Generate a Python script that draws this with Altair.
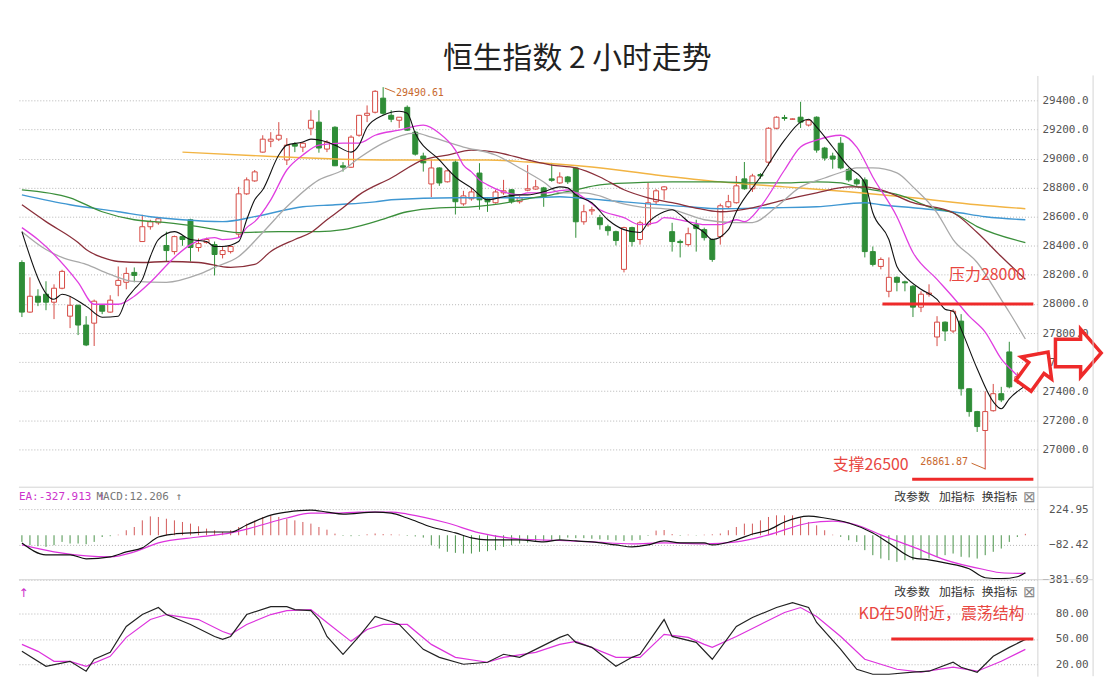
import altair as alt
import pandas as pd

# ---------------- 2-hour candles (index 0..125) ----------------
opens = [28285, 27944, 28053, 28067, 28012, 28108, 27916, 27991, 27855, 27868,
         27991, 27944, 28128, 28149, 28217, 28429, 28531, 28558, 28402, 28360,
         28463, 28579, 28388, 28422, 28408, 28340, 28360, 28480, 28757, 28846,
         29044, 29119, 29133, 28990, 29099, 29078, 29208, 29250, 29065, 29215,
         28950, 28940, 29160, 29297, 29318, 29415, 29297, 29263, 29352, 29181,
         29017, 28825, 28935, 28840, 28975, 28688, 28723, 28900, 28723, 28696,
         28764, 28785, 28703, 28782, 28790, 28798, 28860, 28832, 28873, 28935,
         28565, 28640, 28593, 28531, 28497, 28238, 28525, 28443, 28545, 28703,
         28785, 28497, 28430, 28408, 28545, 28511, 28443, 28463, 28668, 28696,
         28860, 28792, 28890, 28975, 29208, 29282, 29270, 29284, 29230, 29284,
         29072, 29017, 29105, 28925, 28853, 28853, 28360, 28258, 28087, 28183,
         28152, 28122, 27978, 28067, 27773, 27875, 27814, 27882, 27417, 27260,
         27130, 27266, 27383, 27670, 27465, 27500]
highs = [28300, 28183, 28101, 28156, 28135, 28235, 28053, 27995, 27916, 28030,
         27995, 28060, 28258, 28251, 28251, 28613, 28579, 28593, 28497, 28470,
         28470, 28586, 28450, 28456, 28429, 28395, 28402, 28805, 28870, 28921,
         29160, 29181, 29250, 29140, 29112, 29112, 29332, 29332, 29126, 29222,
         28975, 29160, 29300, 29365, 29470, 29490.61, 29332, 29284, 29365, 29190,
         29040, 28990, 28940, 28925, 28990, 28778, 28798, 28968, 28730, 28785,
         28853, 28790, 28740, 28955, 28853, 28805, 28970, 28905, 28880, 28940,
         28682, 28668, 28613, 28545, 28504, 28531, 28531, 28572, 28832, 28790,
         28810, 28558, 28443, 28525, 28579, 28525, 28450, 28690, 28750, 28880,
         28976, 28895, 28900, 29215, 29290, 29300, 29275, 29390, 29270, 29290,
         29080, 29040, 29147, 28935, 28866, 28870, 28395, 28320, 28320, 28190,
         28160, 28130, 28087, 28135, 27916, 27880, 27964, 27930, 27420, 27265,
         27400, 27450, 27430, 27740, 27530, 27540]
lows = [27910, 27940, 27985, 27957, 27896, 28101, 27834, 27786, 27710, 27711,
        27930, 27940, 28053, 28101, 28149, 28429, 28511, 28545, 28292, 28340,
        28400, 28292, 28360, 28415, 28196, 28313, 28347, 28460, 28750, 28840,
        29040, 29078, 29120, 28955, 29044, 29044, 29160, 29040, 29044, 28948,
        28910, 28935, 29150, 29250, 29310, 29300, 29250, 29210, 29190, 29020,
        28910, 28735, 28812, 28835, 28615, 28675, 28710, 28648, 28633, 28690,
        28750, 28690, 28690, 28775, 28785, 28668, 28840, 28825, 28825, 28455,
        28545, 28613, 28511, 28470, 28402, 28217, 28395, 28408, 28531, 28682,
        28716, 28360, 28320, 28395, 28360, 28436, 28290, 28408, 28660, 28690,
        28785, 28770, 28860, 28950, 29200, 29260, 29268, 29210, 29220, 29040,
        28985, 28930, 28925, 28840, 28812, 28320, 28258, 28238, 28046, 28087,
        28087, 27910, 27944, 28050, 27710, 27745, 27800, 27370, 27225, 27120,
        26861.87, 27260, 27325, 27420, 27450, 27470]
closes = [27944, 28053, 28012, 28012, 28108, 28224, 27991, 27855, 27718, 28019,
          27950, 28026, 28162, 28210, 28196, 28531, 28565, 28586, 28367, 28463,
          28443, 28388, 28415, 28443, 28340, 28367, 28395, 28757, 28853, 28908,
          29133, 29133, 29160, 29092, 29085, 29105, 29263, 29072, 29112, 28950,
          28940, 29147, 29297, 29311, 29462, 29311, 29270, 29284, 29195, 29030,
          28970, 28935, 28832, 28915, 28703, 28743, 28770, 28716, 28702, 28770,
          28778, 28703, 28730, 28792, 28805, 28737, 28850, 28873, 28840, 28565,
          28634, 28648, 28545, 28504, 28436, 28525, 28429, 28558, 28696, 28778,
          28805, 28429, 28422, 28483, 28518, 28456, 28306, 28675, 28703, 28812,
          28792, 28880, 28880, 29208, 29284, 29275, 29272, 29250, 29263, 29058,
          29003, 28996, 28935, 28853, 28826, 28360, 28272, 28306, 28183, 28149,
          28145, 27978, 28067, 28075, 27875, 27814, 27950, 27417, 27260, 27157,
          27260, 27383, 27340, 27430, 27500, 27510]

# ---------------- moving averages (bar index, value) ----------------
ma5_i = [0, 4, 5, 8, 10, 12, 13, 14, 15, 16, 17, 19, 21, 23, 24, 25, 27, 28, 29, 30,
         32, 33, 35, 36, 38, 39, 41, 42, 43, 45, 47, 48, 49, 52, 54, 56, 58, 60, 62, 63,
         65, 67, 68, 69, 71, 73, 75, 77, 78, 80, 81, 82, 83, 85, 86, 88, 89, 92, 95, 97,
         98, 99, 101, 103, 105, 106, 108, 109, 110, 112, 114, 115, 116, 117, 119, 121, 122, 123, 125]
ma5_v = [28497, 28032, 28067, 27985, 27909, 27916, 28032, 28101, 28169, 28326, 28443, 28497, 28443, 28429, 28395, 28395, 28429, 28579, 28716, 28785,
         29024, 29092, 29113, 29133, 29113, 29092, 29044, 29092, 29215, 29297, 29325, 29311, 29174, 28990, 28873, 28798, 28716, 28737, 28750, 28750,
         28771, 28805, 28798, 28750, 28696, 28579, 28511, 28491, 28559, 28634, 28648, 28614, 28566, 28491, 28443, 28511, 28634, 28873, 29126, 29250,
         29270, 29215, 29079, 28942, 28832, 28627, 28443, 28258, 28190, 28101, 28032, 27964, 27950, 27827, 27554, 27328, 27280, 27348, 27437]
ma10_i = [0, 2, 7, 9, 12, 14, 16, 19, 21, 24, 25, 27, 28, 29, 31, 33, 35, 37, 40, 42,
          44, 47, 50, 52, 54, 55, 56, 57, 58, 60, 62, 63, 65, 68, 70, 72, 75, 77, 79, 80,
          83, 85, 87, 89, 90, 92, 95, 97, 99, 102, 104, 106, 109, 111, 114, 116, 118, 120, 122, 124, 125]
ma10_v = [28525, 28443, 28149, 27998, 27998, 28053, 28149, 28320, 28408, 28456, 28443, 28456, 28525, 28566, 28716, 28921, 29024, 29092, 29106, 29106,
          29160, 29195, 29229, 29174, 29058, 28955, 28908, 28853, 28819, 28771, 28750, 28764, 28764, 28785, 28730, 28648, 28593, 28545, 28559, 28593,
          28566, 28545, 28545, 28579, 28566, 28668, 28921, 29079, 29126, 29160, 29079, 28873, 28600, 28354, 28169, 28046, 27916, 27807, 27622, 27506, 27437]
ma20_i = [0, 3, 5, 8, 11, 14, 18, 22, 24, 27, 30, 33, 37, 40, 42, 45, 49, 51, 55, 59,
          62, 65, 67, 70, 72, 74, 77, 81, 85, 89, 91, 94, 97, 100, 103, 104, 106, 109, 111, 114,
          116, 119, 122, 123, 125]
ma20_v = [28497, 28374, 28320, 28272, 28203, 28155, 28149, 28203, 28251, 28326, 28491, 28668, 28853, 28921, 29003, 29106, 29174, 29147, 29079, 29024,
          28935, 28839, 28764, 28764, 28743, 28702, 28668, 28648, 28579, 28559, 28559, 28668, 28805, 28866, 28921, 28935, 28935, 28901, 28805, 28627,
          28443, 28285, 28030, 27943, 27759]
ma30_i = [0, 3, 7, 8, 10, 12, 15, 18, 22, 26, 29, 31, 34, 36, 38, 40, 42, 46, 50, 53,
          56, 59, 63, 66, 69, 72, 75, 78, 81, 85, 87, 91, 95, 99, 103, 105, 107, 111, 116, 119, 122, 125]
ma30_v = [28682, 28566, 28422, 28374, 28320, 28292, 28285, 28292, 28285, 28251, 28272, 28361, 28443, 28491, 28579, 28661, 28750, 28866, 28990, 29024,
          29058, 29044, 28990, 28955, 28935, 28873, 28785, 28730, 28696, 28648, 28634, 28661, 28716, 28764, 28805, 28805, 28785, 28696, 28627, 28491, 28326, 28169]
ma60_i = [0, 6, 10, 14, 18, 22, 27, 32, 37, 40, 44, 48, 52, 56, 61, 63, 66, 69, 72, 76,
          81, 87, 91, 95, 99, 102, 104, 106, 110, 113, 116, 119, 125]
ma60_v = [28785, 28730, 28634, 28579, 28559, 28532, 28491, 28497, 28497, 28511, 28566, 28634, 28661, 28668, 28702, 28723, 28750, 28785, 28819, 28832,
          28839, 28839, 28832, 28832, 28839, 28832, 28805, 28785, 28737, 28668, 28627, 28532, 28422]
blue_i = [0, 6, 12, 16, 20, 25, 29, 35, 39, 44, 46, 54, 63, 67, 69, 75, 83, 87, 93, 99, 105, 107, 111, 116, 120, 125]
blue_v = [28750, 28682, 28634, 28600, 28579, 28566, 28600, 28668, 28682, 28702, 28716, 28730, 28730, 28737, 28730, 28702, 28668, 28655, 28661, 28668,
          28696, 28682, 28661, 28634, 28600, 28579]
orange_i = [20, 30, 45, 58, 63, 71, 79, 87, 95, 103, 111, 119, 125]
orange_v = [29044, 29017, 28990, 28990, 28976, 28942, 28887, 28839, 28805, 28771, 28730, 28682, 28655]

# ---------------- MACD ----------------
hist_v = [-57, -85, -94, -100, -85, -57, -71, -71, -77, -57,
          -15, -8, 5, 43, 71, 128, 162, 157, 142, 128,
          114, 100, 77, 57, 43, 28, 43, 71, 100, 128,
          157, 171, 157, 142, 128, 114, 100, 71, 48, 14,
          -5, -8, -5, 8, 15, 10, 8, 5, -5, -10,
          -20, -85, -114, -142, -151, -157, -157, -142, -137, -128,
          -100, -85, -71, -63, -57, -48, -43, -37, -20, -25,
          -25, -30, -35, -40, -45, -50, -45, -40, -5, 40,
          45, 10, -5, 5, -3, 5, 8, 15, 43, 71,
          100, 100, 128, 157, 171, 171, 171, 151, 114, 85,
          43, 5, -14, -43, -57, -128, -171, -200, -214, -228,
          -214, -214, -200, -200, -185, -171, -157, -185, -190, -200,
          -171, -142, -114, -57, -15, 12]
dif_i = [0, 3, 6, 8, 11, 13, 15, 17, 19, 21, 23, 26, 28, 31, 33, 36, 38, 40, 44, 46,
         48, 51, 54, 56, 58, 62, 65, 67, 69, 71, 74, 76, 78, 80, 82, 85, 86, 89, 91, 93,
         95, 98, 100, 103, 106, 108, 111, 113, 115, 118, 120, 122, 124, 125]
dif_v = [-66, -168, -168, -202, -185, -143, -108, -15, 11, 20, 28, 28, 88, 173, 199, 216, 199, 182, 199, 190,
         148, 71, 20, -23, -40, -40, -57, -40, -49, -57, -83, -100, -83, -49, -66, -66, -83, -40, 11, 45,
         114, 165, 148, 105, 20, -66, -194, -211, -237, -288, -365, -373, -356, -322]
dea_i = [0, 4, 8, 11, 14, 17, 22, 26, 29, 33, 36, 39, 42, 46, 48, 53, 57, 62, 67, 71,
         76, 80, 85, 89, 93, 98, 101, 104, 107, 111, 115, 120, 122, 125]
dea_v = [-83, -143, -177, -185, -143, -66, -15, 20, 71, 148, 190, 190, 199, 199, 182, 105, 20, -32, -45, -57,
         -74, -66, -74, -57, 3, 105, 122, 88, 3, -100, -211, -296, -322, -328]

# ---------------- KD ----------------
k_i = [0, 3, 6, 8, 9, 11, 13, 15, 17, 18, 21, 24, 25, 26, 28, 31, 33, 34, 36, 37,
       38, 40, 42, 44, 46, 47, 50, 52, 55, 58, 60, 62, 64, 67, 68, 69, 71, 74, 76, 77,
       80, 81, 84, 86, 89, 91, 94, 96, 98, 99, 102, 104, 106, 108, 111, 113, 116, 117, 119, 121, 123, 125]
k_v = [35.3, 17.6, 23.5, 11.8, 25.9, 34.1, 64.7, 78.8, 87.1, 78.8, 67.1, 52.9, 49.4, 52.9, 78.8, 88.2, 88.2, 84.7, 83.5, 72.9,
       52.9, 31.8, 52.9, 76.5, 70.6, 67.1, 37.6, 28.2, 20.0, 22.4, 31.8, 28.2, 37.6, 51.8, 55.3, 45.9, 40.0, 17.6, 28.2, 31.8,
       72.9, 52.9, 45.9, 25.9, 64.7, 75.3, 87.1, 92.9, 87.1, 69.4, 37.6, 14.1, 8.2, 8.2, 10.6, 11.8, 22.4, 16.5, 10.6, 29.4, 40.0, 49.4]
d_i = [0, 2, 4, 6, 8, 11, 13, 16, 18, 22, 25, 26, 28, 31, 33, 36, 38, 41, 43, 45,
       48, 51, 54, 58, 60, 64, 67, 69, 70, 74, 77, 80, 83, 85, 86, 89, 92, 95, 97, 99,
       102, 105, 109, 112, 116, 119, 122, 125]
d_v = [43.5, 35.3, 23.5, 23.5, 17.6, 29.4, 51.8, 72.9, 78.8, 72.9, 58.8, 55.3, 67.1, 78.8, 83.5, 84.7, 69.4, 47.1, 61.2, 67.1,
       67.1, 43.5, 28.2, 22.4, 28.2, 34.1, 43.5, 47.1, 43.5, 28.2, 28.2, 55.3, 51.8, 43.5, 40.0, 52.9, 67.1, 81.2, 87.1, 76.5,
       52.9, 25.9, 14.1, 10.6, 16.5, 11.8, 23.5, 37.6]

price_ticks = [27000, 27200, 27400, 27600, 27800, 28000, 28200, 28400, 28600, 28800, 29000, 29200, 29400]
macd_ticks = [224.95, -82.42, -381.69]
kd_ticks = [20, 50, 80]

# ---------------- styling ----------------
RED = "#d64a44"
GREEN = "#2f8d37"
ANN = "#ee2a2a"
TXT_RED = "#e8463f"
W = 1024
H_MAIN, H_MACD, H_KD = 414, 93, 97
FRAME_X = 1080
XDOM = [-0.37, 126.5]
# hollow block-arrow marker shapes (unit box, pointing right)
ARROW_SMALL = "M-1,-0.45L0.05,-0.45L0.05,-0.9L1,0L0.05,0.9L0.05,0.45L-1,0.45Z"
ARROW_BIG = "M-1,-0.6L0.1,-0.6L0.1,-1.04L1,0L0.1,1.04L0.1,0.6L-1,0.6Z"

N = len(closes)
candles = pd.DataFrame({"i": list(range(N)), "open": opens, "high": highs,
                        "low": lows, "close": closes})
candles["up"] = candles["close"] >= candles["open"]

xscale = alt.Scale(domain=XDOM, nice=False, zero=False, padding=0)


def xq(field="i"):
    return alt.X(f"{field}:Q", scale=xscale, axis=None)


def right_axis(values, fmt):
    return alt.Axis(orient="right", values=values, format=fmt, title=None,
                    grid=True, gridDash=[1, 2], gridColor="#b5b5b5", gridWidth=1,
                    ticks=False, domain=True, domainColor="#d4d4d4",
                    labelAlign="right", labelPadding=51, labelBaseline="middle",
                    labelFont="DejaVu Sans Mono", labelFontSize=11, labelColor="#555555",
                    labelOverlap=False, labelBound=False)


main_scale = alt.Scale(domain=[26740, 29571], nice=False, zero=False)
main_axis = right_axis(price_ticks, ".1f")


def ymain(field):
    return alt.Y(f"{field}:Q", scale=main_scale, axis=main_axis)


one = pd.DataFrame({"k": [0]})

# ---- main panel ----
wicks = alt.Chart(candles).mark_rule(strokeWidth=1).encode(
    x=xq(), y=ymain("low"), y2="high:Q",
    color=alt.condition("datum.up", alt.value(RED), alt.value(GREEN)))
bodies = alt.Chart(candles).mark_bar(size=5, strokeWidth=1).encode(
    x=xq(), y=ymain("open"), y2="close:Q",
    fill=alt.condition("datum.up", alt.value("#ffffff"), alt.value(GREEN)),
    stroke=alt.condition("datum.up", alt.value(RED), alt.value(GREEN)))


def ma_layer(ii, vv, color, width=1.3):
    df = pd.DataFrame({"i": ii, "v": vv})
    return alt.Chart(df).mark_line(color=color, strokeWidth=width,
                                   interpolate="monotone").encode(x=xq(), y=ymain("v"))


ma_layers = [
    ma_layer(orange_i, orange_v, "#f2b443", 1.4),
    ma_layer(blue_i, blue_v, "#3f97d2", 1.4),
    ma_layer(ma60_i, ma60_v, "#3b8f3b", 1.3),
    ma_layer(ma30_i, ma30_v, "#8a2f3a", 1.3),
    ma_layer(ma20_i, ma20_v, "#a9a9a9", 1.3),
    ma_layer(ma10_i, ma10_v, "#e03ee0", 1.3),
    ma_layer(ma5_i, ma5_v, "#111111", 1.1),
]

hl = pd.DataFrame({"x0": [107.2, 110.9], "x1": [126.0, 126.0], "y": [28000, 26795]})
hl_layer = alt.Chart(hl).mark_rule(strokeWidth=3, color=ANN).encode(
    x=xq("x0"), x2="x1:Q", y=ymain("y"))

notes = pd.DataFrame({"x": [115.5, 101.0], "y": [28196, 26890],
                      "t": ["压力28000", "支撑26500"]})
notes_layer = alt.Chart(notes).mark_text(
    align="left", baseline="middle", font="Noto Sans CJK SC", fontSize=16,
    color=TXT_RED).encode(x=xq("x"), y=ymain("y"), text="t:N")

tags = pd.DataFrame({"x": [46.6, 111.9], "y": [29452, 26911],
                     "t": ["29490.61", "26861.87"]})
tags_layer = alt.Chart(tags).mark_text(
    align="left", baseline="middle", font="DejaVu Sans Mono", fontSize=10,
    color="#c8682e").encode(x=xq("x"), y=ymain("y"), text="t:N")

tag_arrows = pd.DataFrame({"x0": [46.5, 118.3], "x1": [45.2, 120.0],
                           "y0": [29455, 26905], "y1": [29484, 26866]})
tag_arrow_layer = alt.Chart(tag_arrows).mark_rule(color="#c8682e", strokeWidth=1).encode(
    x=xq("x0"), x2="x1:Q", y=ymain("y0"), y2="y1:Q")

arrow_up = pd.DataFrame({"x": [126.3], "y": [27554]})
arrow_up_layer = alt.Chart(arrow_up).mark_point(
    shape=ARROW_SMALL, size=1764, angle=306, filled=True, fill="#ffffff",
    stroke=ANN, strokeWidth=3.5, opacity=1).encode(x=xq("x"), y=ymain("y"))
arrow_r = pd.DataFrame({"x": [131.6], "y": [27663]})
arrow_r_layer = alt.Chart(arrow_r).mark_point(
    shape=ARROW_BIG, size=2116, filled=True, fill="#ffffff",
    stroke=ANN, strokeWidth=3.5, opacity=1).encode(x=xq("x"), y=ymain("y"))

frame_main = alt.Chart(one).mark_rule(color="#d4d4d4").encode(
    x=alt.value(FRAME_X), y=alt.value(0), y2=alt.value(H_MAIN))

main = alt.layer(wicks, bodies, *ma_layers, hl_layer, notes_layer, tags_layer,
                 tag_arrow_layer, arrow_up_layer, arrow_r_layer, frame_main
                 ).properties(width=W, height=H_MAIN)

# ---- MACD panel ----
macd_scale = alt.Scale(domain=[-381.7, 412.5], nice=False, zero=False)
macd_axis = right_axis(macd_ticks, ".2f")
hist = pd.DataFrame({"i": list(range(N)), "h": hist_v})
hist["zero"] = 0
hist_layer = alt.Chart(hist).mark_rule(strokeWidth=1).encode(
    x=xq(), y=alt.Y("zero:Q", scale=macd_scale, axis=macd_axis), y2="h:Q",
    color=alt.condition("datum.h >= 0", alt.value("#d35a5a"), alt.value("#4a924a")))


def macd_line(ii, vv, color):
    df = pd.DataFrame({"i": ii, "v": vv})
    return alt.Chart(df).mark_line(color=color, strokeWidth=1.2, interpolate="monotone").encode(
        x=xq(), y=alt.Y("v:Q", scale=macd_scale, axis=macd_axis))


def header(txt, px, py, color, font="DejaVu Sans Mono", size=11, align="left"):
    return alt.Chart(one).mark_text(align=align, baseline="middle", font=font,
                                    fontSize=size, color=color).encode(
        x=alt.value(px), y=alt.value(py), text=alt.value(txt))


def buttons(py):
    return [header("改参数", 880, py, "#333333", "Noto Sans CJK SC", 12),
            header("加指标", 925, py, "#333333", "Noto Sans CJK SC", 12),
            header("换指标", 968, py, "#333333", "Noto Sans CJK SC", 12),
            header("⊠", 1016, py, "#888888", "DejaVu Sans", 15, "center")]


sep_macd = alt.Chart(one).mark_rule(color="#d4d4d4").encode(
    x=alt.value(0), x2=alt.value(FRAME_X), y=alt.value(0))
frame_macd = alt.Chart(one).mark_rule(color="#d4d4d4").encode(
    x=alt.value(FRAME_X), y=alt.value(0), y2=alt.value(H_MACD))

macd = alt.layer(
    hist_layer, macd_line(dea_i, dea_v, "#dd33dd"), macd_line(dif_i, dif_v, "#111111"),
    header("EA:-327.913 ↑", 0, 10, "#cc33cc"), header("MACD:12.206 ↑", 78, 10, "#777777"),
    *buttons(10), sep_macd, frame_macd
).properties(width=W, height=H_MACD)

# ---- KD panel ----
kd_scale = alt.Scale(domain=[5.9, 120], nice=False, zero=False)
kd_axis = right_axis(kd_ticks, ".2f")


def kd_line(ii, vv, color):
    df = pd.DataFrame({"i": ii, "v": vv})
    return alt.Chart(df).mark_line(color=color, strokeWidth=1.2).encode(
        x=xq(), y=alt.Y("v:Q", scale=kd_scale, axis=kd_axis))


kd_hl = pd.DataFrame({"x0": [108.3], "x1": [126.0], "y": [50]})
kd_hl_layer = alt.Chart(kd_hl).mark_rule(strokeWidth=3, color=ANN).encode(
    x=xq("x0"), x2="x1:Q", y=alt.Y("y:Q", scale=kd_scale, axis=kd_axis))
kd_note = pd.DataFrame({"x": [104.2], "y": [80], "t": ["KD在50附近，震荡结构"]})
kd_note_layer = alt.Chart(kd_note).mark_text(
    align="left", baseline="middle", font="Noto Sans CJK SC", fontSize=16,
    color=TXT_RED).encode(x=xq("x"), y=alt.Y("y:Q", scale=kd_scale, axis=kd_axis), text="t:N")

sep_kd = alt.Chart(one).mark_rule(color="#d4d4d4").encode(
    x=alt.value(0), x2=alt.value(FRAME_X), y=alt.value(0))
frame_kd = alt.Chart(one).mark_rule(color="#d4d4d4").encode(
    x=alt.value(FRAME_X), y=alt.value(0), y2=alt.value(H_KD))

kd = alt.layer(
    kd_line(d_i, d_v, "#dd33dd"), kd_line(k_i, k_v, "#222222"),
    kd_hl_layer, kd_note_layer,
    header("↑", 0, 13, "#cc33cc", "DejaVu Sans", 12),
    *buttons(12), sep_kd, frame_kd
).properties(width=W, height=H_KD)

chart = alt.vconcat(main, macd, kd, spacing=0, bounds="flush").properties(
    title=alt.TitleParams(text="恒生指数 2 小时走势", fontSize=30, font="Noto Sans CJK SC",
                          fontWeight="normal", color="#222222", anchor="middle",
                          offset=1, dx=14),
    padding={"left": 10, "top": 34, "right": 0, "bottom": 0},
    background="white",
).configure_view(stroke=None)

chart.save("out.html", embed_options={"renderer": "svg", "actions": False})
